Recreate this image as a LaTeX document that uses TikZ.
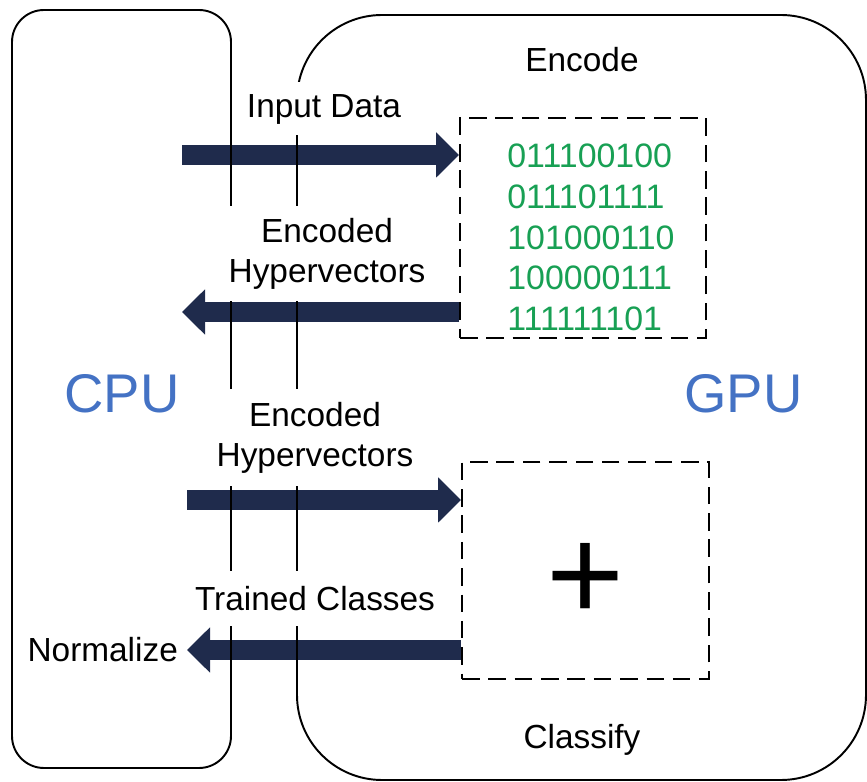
\documentclass[tikz,border=0pt]{standalone}
\usepackage{fontspec}
\setmainfont{Liberation Sans}
\usetikzlibrary{arrows.meta, positioning, backgrounds}
\definecolor{arrownavy}{RGB}{31,43,76}
\definecolor{cpublue}{RGB}{68,114,196}
\definecolor{bitgreen}{RGB}{24,160,84}

\begin{document}
\begin{tikzpicture}[
  lbl/.style={font=\fontsize{19}{22.8}\selectfont, align=center},
  gaplabel/.style={lbl, fill=white, inner xsep=3pt, inner ysep=0pt},
  devname/.style={font=\fontsize{31}{37}\selectfont, text=cpublue},
  devbox/.style={draw, line width=1.1pt},
  kernelbox/.style={draw, line width=1.1pt, dash pattern=on 10pt off 5pt, minimum width=4.92cm, minimum height=4.4cm},
  dataflow/.style={line width=0.4cm, draw=arrownavy, -{Triangle[length=0.46cm, width=0.88cm]}}
]
\useasboundingbox (0,0) rectangle (17.34,15.64);

% Kernels on the GPU side
\node[kernelbox] (enc) at (11.66,11.08) {};
\node[kernelbox, minimum width=4.94cm, minimum height=4.34cm] (cls) at (11.71,4.23) {};

% Free ends on the CPU side
\coordinate (srcA) at (3.64,12.54);
\coordinate (dstB) at (3.64,9.40);
\coordinate (srcC) at (3.74,5.64);
\node[lbl, anchor=east, inner xsep=5pt] (norm) at (3.74,2.64) {Normalize};

% Transfers between CPU and GPU
\begin{scope}[on background layer]
\draw[dataflow] (srcA) -- (srcA -| enc.west);
\draw[dataflow] (enc.west |- dstB) -- (dstB);
\draw[dataflow] (srcC) -- (srcC -| cls.west);
\draw[dataflow] (cls.west |- norm.east) -- (norm.east);
\end{scope}

% CPU and GPU regions
\draw[devbox, rounded corners=0.64cm] (0.24,0.28) rectangle (4.62,15.44);
\draw[devbox, rounded corners=1.7cm] (5.94,0.04) rectangle (17.32,15.34);
\node[devname] (cpu) at (2.44,7.76) {CPU};
\node[devname] (gpu) at (14.87,7.76) {GPU};

% Kernel titles
\node[lbl] (enctitle) at (11.64,14.44) {Encode};
\node[lbl] (clstitle) at (11.64,0.84) {Classify};

% Labels across the boundary
\node[gaplabel, minimum height=1.06cm] (lblA) at (6.48,13.46) {Input Data};
\node[gaplabel, minimum height=1.9cm] (lblB) at (6.54,10.56) {Encoded\\Hypervectors};
\node[gaplabel, minimum height=1.94cm] (lblC) at (6.3,6.89) {Encoded\\Hypervectors};
\node[gaplabel, minimum height=1.1cm] (lblD) at (6.3,3.66) {Trained Classes};

% Kernel contents
\node[font=\fontsize{19.3}{23.2}\selectfont, text=bitgreen, align=left, anchor=west, inner sep=0pt] (bits) at (10.14,10.89) {011100100\\011101111\\101000110\\100000111\\111111101};
\node[font=\fontsize{76}{76}\selectfont] (plus) at (11.7,4.0) {+};

\end{tikzpicture}
\end{document}
